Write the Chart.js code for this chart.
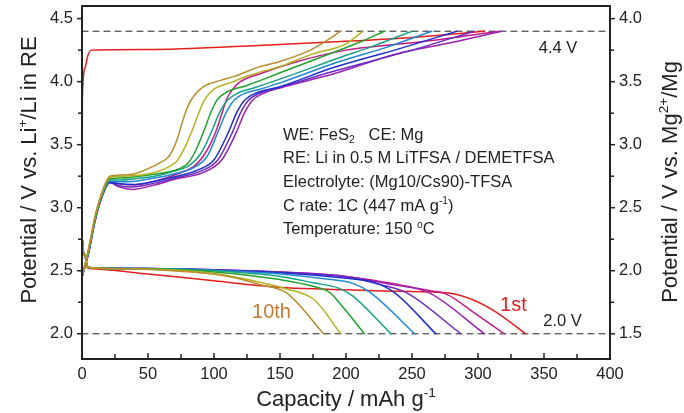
<!DOCTYPE html>
<html>
<head>
<meta charset="utf-8">
<script src="https://cdn.jsdelivr.net/npm/chart.js@4.4.1/dist/chart.umd.min.js"></script>
<style>
  html, body { margin: 0; padding: 0; background: #fff; }
  #wrap { width: 684px; height: 413px; }
</style>
</head>
<body>
<div id="wrap"><canvas id="chart" width="684" height="413"></canvas></div>
<script>
// cycle names and axis ticks
const cycleNames = ['1st', '2nd', '3rd', '4th', '5th', '6th', '7th', '8th', '9th', '10th'];
const xTicks = [0, 50, 100, 150, 200, 250, 300, 350, 400];
const yTicks = [2.0, 2.5, 3.0, 3.5, 4.0, 4.5];
const y2Ticks = [1.5, 2.0, 2.5, 3.0, 3.5, 4.0];
const cutoffLevels = [4.4, 2.0];

// charge curves: [capacity mAh/g, potential V vs Li+/Li]
const charge1 = [[0, 3.08], [0.3, 3.87], [2.3, 4.11], [4.5, 4.21], [7.3, 4.25], [50, 4.255], [130, 4.285], [200, 4.32], [255, 4.355], [305, 4.40]];
const charge2 = [[0, 2.45], [5, 2.65], [10, 2.91], [16, 3.12], [21, 3.21], [28, 3.19], [40, 3.18], [55, 3.21], [70, 3.26], [85, 3.33], [92, 3.41], [97, 3.50], [102, 3.62], [106, 3.75], [110, 3.87], [115, 3.95], [120, 4.00], [137, 4.07], [160, 4.15], [200, 4.25], [260, 4.32], [316, 4.40]];
const charge3 = [[0, 2.45], [5, 2.64], [10, 2.90], [16, 3.11], [21, 3.20], [28, 3.165], [38, 3.145], [55, 3.18], [70, 3.225], [92, 3.28], [106, 3.38], [117, 3.60], [123, 3.75], [129, 3.85], [138, 3.91], [150, 3.95], [190, 4.06], [238, 4.22], [280, 4.31], [318, 4.40]];
const charge4 = [[0, 2.45], [5, 2.64], [10, 2.90], [16, 3.11], [21, 3.20], [28, 3.175], [38, 3.165], [55, 3.195], [70, 3.235], [90, 3.29], [103, 3.38], [114, 3.60], [120, 3.75], [126, 3.85], [135, 3.91], [150, 3.955], [190, 4.08], [250, 4.25], [297, 4.40]];
const charge5 = [[0, 2.45], [5, 2.65], [10, 2.91], [16, 3.12], [21, 3.20], [28, 3.19], [40, 3.185], [55, 3.21], [70, 3.245], [88, 3.30], [100, 3.38], [111, 3.60], [117, 3.75], [123, 3.85], [132, 3.91], [150, 3.96], [190, 4.11], [240, 4.26], [284, 4.40]];
const charge6 = [[0, 2.45], [5, 2.65], [10, 2.91], [16, 3.12], [21, 3.21], [30, 3.205], [40, 3.21], [55, 3.235], [70, 3.27], [85, 3.32], [95, 3.41], [103, 3.60], [109, 3.75], [115, 3.85], [124, 3.91], [135, 3.94], [150, 3.99], [195, 4.16], [230, 4.27], [265, 4.40]];
const charge7 = [[0, 2.45], [5, 2.66], [10, 2.92], [16, 3.13], [21, 3.22], [30, 3.22], [40, 3.23], [55, 3.25], [70, 3.29], [82, 3.34], [90, 3.43], [98, 3.60], [104, 3.75], [110, 3.85], [118, 3.91], [130, 3.95], [150, 4.02], [195, 4.19], [220, 4.28], [250, 4.40]];
const charge8 = [[0, 2.45], [5, 2.66], [10, 2.92], [16, 3.13], [21, 3.23], [30, 3.235], [40, 3.245], [55, 3.265], [70, 3.295], [80, 3.35], [86, 3.45], [92, 3.60], [97, 3.74], [102, 3.85], [110, 3.92], [125, 3.97], [150, 4.07], [170, 4.15], [195, 4.25], [212, 4.32], [229, 4.40]];
const charge9 = [[0, 2.45], [5, 2.67], [10, 2.93], [16, 3.14], [21, 3.24], [30, 3.25], [40, 3.255], [55, 3.28], [65, 3.32], [72, 3.37], [78, 3.48], [83, 3.60], [88, 3.74], [93, 3.86], [100, 3.94], [112, 3.99], [130, 4.06], [150, 4.12], [175, 4.22], [200, 4.30], [213, 4.40]];
const charge10 = [[0, 2.45], [5, 2.68], [10, 2.94], [16, 3.15], [21, 3.25], [30, 3.26], [40, 3.27], [50, 3.31], [58, 3.35], [66, 3.41], [72, 3.54], [76, 3.68], [80, 3.80], [85, 3.89], [92, 3.96], [105, 4.01], [115, 4.04], [135, 4.12], [150, 4.16], [173, 4.25], [183, 4.31], [196, 4.40]];

// discharge curves: [capacity mAh/g, potential V vs Li+/Li]
const discharge1 = [[0, 4.40], [0.2, 2.75], [2, 2.62], [4, 2.525], [8, 2.515], [50, 2.475], [100, 2.42], [155, 2.365], [200, 2.35], [240, 2.337], [276, 2.325], [296, 2.27], [314, 2.17], [336, 2.0]];
const discharge2 = [[0, 4.40], [0.2, 2.75], [2, 2.63], [4, 2.535], [8, 2.522], [50, 2.515], [100, 2.505], [150, 2.49], [200, 2.455], [240, 2.39], [262, 2.345], [276, 2.315], [298, 2.16], [320, 2.0]];
const discharge3 = [[0, 4.40], [0.2, 2.75], [2, 2.63], [4, 2.535], [8, 2.522], [50, 2.517], [100, 2.507], [150, 2.49], [200, 2.455], [235, 2.39], [262, 2.33], [305, 2.0]];
const discharge4 = [[0, 4.40], [0.2, 2.75], [2, 2.63], [4, 2.535], [8, 2.522], [50, 2.517], [100, 2.507], [150, 2.488], [200, 2.45], [226, 2.39], [246, 2.325], [287, 2.0]];
const discharge5 = [[0, 4.40], [0.2, 2.75], [2, 2.63], [4, 2.535], [8, 2.522], [50, 2.517], [100, 2.505], [150, 2.485], [200, 2.44], [222, 2.405], [237, 2.325], [268, 2.0]];
const discharge6 = [[0, 4.40], [0.2, 2.75], [2, 2.63], [4, 2.535], [8, 2.522], [50, 2.517], [100, 2.503], [150, 2.475], [185, 2.435], [205, 2.40], [218, 2.33], [252, 2.0]];
const discharge7 = [[0, 4.40], [0.2, 2.75], [2, 2.63], [4, 2.535], [8, 2.522], [50, 2.515], [100, 2.50], [150, 2.455], [175, 2.405], [195, 2.36], [205, 2.30], [234, 2.0]];
const discharge8 = [[0, 4.40], [0.2, 2.75], [2, 2.63], [4, 2.535], [8, 2.522], [50, 2.515], [100, 2.49], [150, 2.43], [175, 2.377], [188, 2.325], [197, 2.22], [214, 2.0]];
const discharge9 = [[0, 4.40], [0.2, 2.75], [2, 2.63], [4, 2.535], [8, 2.522], [50, 2.513], [100, 2.478], [130, 2.42], [155, 2.355], [176, 2.27], [196, 2.0]];
const discharge10 = [[0, 4.40], [0.2, 2.75], [2, 2.63], [4, 2.535], [8, 2.522], [50, 2.51], [100, 2.472], [115, 2.446], [135, 2.39], [155, 2.325], [183, 2.0]];

const chargeCurves = [charge1, charge2, charge3, charge4, charge5, charge6, charge7, charge8, charge9, charge10];
const dischargeCurves = [discharge1, discharge2, discharge3, discharge4, discharge5, discharge6, discharge7, discharge8, discharge9, discharge10];

const lineColors = ['#e41e1e', '#c21a86', '#9a22b0', '#6c2cc0', '#1f30d0', '#1f8ad2', '#17a287', '#22a22c', '#b5b21e', '#b88e2e'];
const FONT = '"Liberation Sans", Arial, Helvetica, sans-serif';
const INK = '#222';

const infoLines = [
  [['WE: FeS', 0], ['2', -1], ['   CE: Mg', 0]],
  [['RE: Li in 0.5 M LiTFSA / DEMETFSA', 0]],
  [['Electrolyte: (Mg10/Cs90)-TFSA', 0]],
  [['C rate: 1C (447 mA g', 0], ['-1', 1], [')', 0]],
  [['Temperature: 150 ', 0], ['o', 1], ['C', 0]]
];

const toXY = arr => arr.map(p => ({ x: p[0], y: p[1] }));

const datasets = [];
cutoffLevels.forEach(v => {
  datasets.push({
    data: [{ x: 0, y: v }, { x: 400, y: v }],
    borderColor: INK, borderWidth: 1, borderDash: [6, 5],
    pointRadius: 0, tension: 0, order: 30
  });
});
cycleNames.forEach((name, i) => {
  [chargeCurves[i], dischargeCurves[i]].forEach(curve => {
    datasets.push({
      label: name,
      data: toXY(curve),
      borderColor: lineColors[i],
      borderWidth: 1.5,
      pointRadius: 0,
      cubicInterpolationMode: 'monotone',
      order: 11 - i
    });
  });
});

function drawRich(ctx, parts, x, y, size, align) {
  let w = 0;
  parts.forEach(p => {
    ctx.font = (p[1] ? size * 0.62 : size) + 'px ' + FONT;
    w += ctx.measureText(p[0]).width;
  });
  let cx = align === 'center' ? x - w / 2 : x;
  ctx.textAlign = 'left';
  ctx.textBaseline = 'alphabetic';
  parts.forEach(p => {
    const s = p[1] ? size * 0.62 : size;
    ctx.font = s + 'px ' + FONT;
    const dy = p[1] === 1 ? -size * 0.42 : (p[1] === -1 ? size * 0.22 : 0);
    ctx.fillText(p[0], cx, y + dy);
    cx += ctx.measureText(p[0]).width;
  });
}

const decorations = {
  id: 'decorations',
  afterDraw(chart) {
    const ctx = chart.ctx;
    const a = chart.chartArea;
    const xs = chart.scales.x, ys = chart.scales.y, y2 = chart.scales.y2;
    ctx.save();
    ctx.strokeStyle = INK;
    ctx.fillStyle = INK;

    // frame
    ctx.lineWidth = 2;
    ctx.strokeRect(a.left, a.top, a.right - a.left, a.bottom - a.top);

    // ticks
    ctx.lineWidth = 1.5;
    const seg = (x1, y1, x2, y2_) => { ctx.beginPath(); ctx.moveTo(x1, y1); ctx.lineTo(x2, y2_); ctx.stroke(); };
    const withMinor = t => {
      const out = [];
      t.forEach((v, i) => { out.push([v, true]); if (i < t.length - 1) out.push([(v + t[i + 1]) / 2, false]); });
      return out;
    };
    withMinor(xTicks).forEach(([v, major]) => {
      const px = xs.getPixelForValue(v);
      seg(px, a.bottom, px, a.bottom - (major ? 6 : 5));
    });
    withMinor(yTicks).forEach(([v, major]) => {
      const py = ys.getPixelForValue(v);
      seg(a.left, py, a.left - (major ? 5 : 4), py);
    });
    withMinor(y2Ticks).forEach(([v, major]) => {
      const py = y2.getPixelForValue(v);
      seg(a.right, py, a.right + (major ? 5 : 4), py);
    });

    // axis titles
    drawRich(ctx, [['Capacity / mAh g', 0], ['-1', 1]], (a.left + a.right) / 2, 406, 22, 'center');
    ctx.save();
    ctx.translate(36, 170);
    ctx.rotate(-Math.PI / 2);
    drawRich(ctx, [['Potential / V vs. Li', 0], ['+', 1], ['/Li in RE', 0]], 0, 0, 22, 'center');
    ctx.restore();
    ctx.save();
    ctx.translate(677, 182);
    ctx.rotate(-Math.PI / 2);
    drawRich(ctx, [['Potential / V vs. Mg', 0], ['2+', 1], ['/Mg', 0]], 0, 0, 22, 'center');
    ctx.restore();

    // labels
    drawRich(ctx, [['4.4 V', 0]], xs.getPixelForValue(360.6), ys.getPixelForValue(4.23), 16.5, 'center');
    drawRich(ctx, [['2.0 V', 0]], xs.getPixelForValue(364), ys.getPixelForValue(2.058), 16.5, 'center');
    ctx.fillStyle = lineColors[0];
    drawRich(ctx, [['1st', 0]], xs.getPixelForValue(316.7), ys.getPixelForValue(2.179), 20, 'left');
    ctx.fillStyle = '#c47a32';
    drawRich(ctx, [['10th', 0]], xs.getPixelForValue(128.8), ys.getPixelForValue(2.129), 20, 'left');

    // info box
    ctx.fillStyle = INK;
    const bx = xs.getPixelForValue(152.3);
    const by = ys.getPixelForValue(3.54);
    infoLines.forEach((parts, i) => drawRich(ctx, parts, bx, by + i * 23.7, 16.5, 'left'));
    ctx.restore();
  }
};

const tickFont = { size: 16.5, family: FONT };
const noPad = s => { s.paddingTop = 0; s.paddingBottom = 0; s.paddingLeft = 0; s.paddingRight = 0; };

new Chart(document.getElementById('chart'), {
  type: 'line',
  data: { datasets },
  options: {
    responsive: false,
    animation: false,
    events: [],
    layout: { padding: { top: 6, left: 0, right: 0, bottom: 0 } },
    plugins: { legend: { display: false }, tooltip: { enabled: false } },
    elements: { line: { borderJoinStyle: 'round', borderCapStyle: 'round' } },
    scales: {
      x: {
        type: 'linear', min: 0, max: 400,
        afterFit: s => { s.height = 54; noPad(s); },
        afterBuildTicks: s => { s.ticks = xTicks.map(v => ({ value: v })); },
        ticks: { font: tickFont, color: INK, padding: 6, maxRotation: 0, autoSkip: false, callback: v => String(v) },
        grid: { display: false, drawTicks: false },
        border: { display: false }
      },
      y: {
        type: 'linear', position: 'left', min: 1.8, max: 4.6,
        afterFit: s => { s.width = 82; noPad(s); },
        afterBuildTicks: s => { s.ticks = yTicks.map(v => ({ value: v })); },
        ticks: { font: tickFont, color: INK, padding: 9, autoSkip: false, callback: v => v.toFixed(1) },
        grid: { display: false, drawTicks: false },
        border: { display: false }
      },
      y2: {
        type: 'linear', position: 'right', min: 1.3, max: 4.1,
        afterFit: s => { s.width = 74; noPad(s); },
        afterBuildTicks: s => { s.ticks = y2Ticks.map(v => ({ value: v })); },
        ticks: { font: tickFont, color: INK, padding: 9, autoSkip: false, callback: v => v.toFixed(1) },
        grid: { display: false, drawTicks: false },
        border: { display: false }
      }
    }
  },
  plugins: [decorations]
});
</script>
</body>
</html>
